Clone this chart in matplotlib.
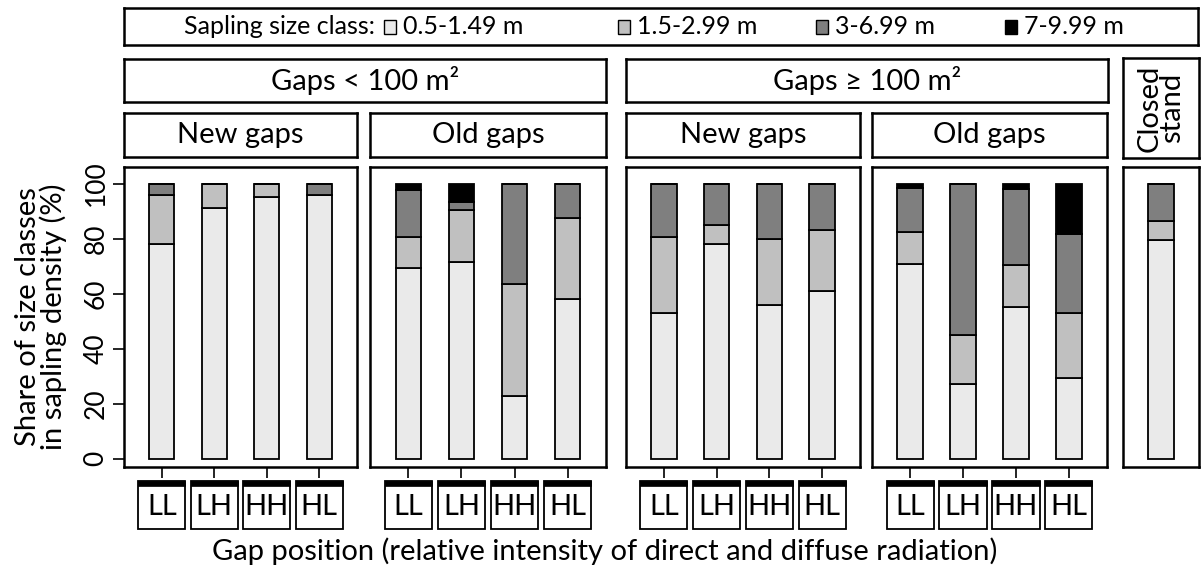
import matplotlib
matplotlib.use("Agg")
import matplotlib.pyplot as plt
from matplotlib.patches import Rectangle
from matplotlib.transforms import blended_transform_factory
import numpy as np

plt.rcParams['font.family'] = ['Lato', 'DejaVu Sans']

# ---------------- data ----------------
size_classes = ["0.5-1.49 m", "1.5-2.99 m", "3-6.99 m", "7-9.99 m"]
class_colors = ["#eaeaea", "#c0c0c0", "#7f7f7f", "#000000"]
positions = ["LL", "LH", "HH", "HL"]

# shares (%) per size class for LL, LH, HH, HL
small_new_s1 = [78, 91, 95, 96]
small_new_s2 = [18, 9, 5, 0]
small_new_s3 = [4, 0, 0, 4]
small_new_s4 = [0, 0, 0, 0]

small_old_s1 = [69.4, 71.6, 22.9, 57.9]
small_old_s2 = [11.1, 18.8, 40.6, 29.4]
small_old_s3 = [17.3, 2.9, 36.5, 12.7]
small_old_s4 = [2.2, 6.7, 0, 0]

large_new_s1 = [53.0, 77.9, 56.0, 61.1]
large_new_s2 = [27.6, 7.1, 24.0, 21.9]
large_new_s3 = [19.4, 15.0, 20.0, 17.0]
large_new_s4 = [0, 0, 0, 0]

large_old_s1 = [70.6, 27.2, 55.1, 29.3]
large_old_s2 = [11.8, 17.8, 15.4, 23.7]
large_old_s3 = [16.0, 55.0, 27.4, 28.6]
large_old_s4 = [1.6, 0, 2.1, 18.4]

closed_s1 = [79.3]
closed_s2 = [6.9]
closed_s3 = [13.8]
closed_s4 = [0]

top_strips = ["Gaps < 100 m²", "Gaps ≥ 100 m²"]
sub_strips = ["New gaps", "Old gaps", "New gaps", "Old gaps"]
closed_label = "Closed\nstand"
legend_title = "Sapling size class:"
y_ticks = [0, 20, 40, 60, 80, 100]
y_label = "Share of size classes\nin sapling density (%)"
x_label = "Gap position (relative intensity of direct and diffuse radiation)"

panels = [
    [small_new_s1, small_new_s2, small_new_s3, small_new_s4],
    [small_old_s1, small_old_s2, small_old_s3, small_old_s4],
    [large_new_s1, large_new_s2, large_new_s3, large_new_s4],
    [large_old_s1, large_old_s2, large_old_s3, large_old_s4],
]
closed_panel = [closed_s1, closed_s2, closed_s3, closed_s4]

# ---------------- layout ----------------
W, H = 1203, 572
fig = plt.figure(figsize=(W / 100, H / 100), dpi=100)


def px(x0, y0, x1, y1):
    return [x0 / W, 1 - y1 / H, (x1 - x0) / W, (y1 - y0) / H]


SPINE_LW = 1.8
FS = 21


def box_axes(rect):
    a = fig.add_axes(rect)
    a.set_xticks([])
    a.set_yticks([])
    for s in a.spines.values():
        s.set_linewidth(SPINE_LW)
    return a


# legend box
lax = box_axes(px(124, 8, 1198, 45))
lax.set_xlim(124, 1198)
lax.set_ylim(45, 8)
lax.text(375, 27, legend_title, ha="right", va="center", fontsize=18)
leg_x = [384, 618, 816, 1005]
for lx, lab, col in zip(leg_x, size_classes, class_colors):
    lax.add_patch(Rectangle((lx, 20), 12, 14, facecolor=col, edgecolor="black", lw=1.0))
    lax.text(lx + 19, 27, lab, ha="left", va="center", fontsize=18)

# top strips
for (x0, x1), lab in zip([(124, 606), (626, 1108)], top_strips):
    a = box_axes(px(x0, 59, x1, 102))
    a.text(0.5, 0.5, lab, ha="center", va="center", fontsize=FS, transform=a.transAxes)

# closed stand strip
a = box_axes(px(1123, 58, 1199, 158))
a.text(0.5, 0.5, closed_label, ha="center", va="center", fontsize=FS,
       rotation=90, linespacing=0.8, transform=a.transAxes)

panel_x = [(124, 357), (370, 606), (626, 860), (872, 1107)]
for (x0, x1), lab in zip(panel_x, sub_strips):
    a = box_axes(px(x0, 113, x1, 157))
    a.text(0.5, 0.5, lab, ha="center", va="center", fontsize=FS, transform=a.transAxes)


def draw_bars(ax, series, n):
    x = np.arange(1, n + 1)
    bottom = np.zeros(n)
    for vals, col in zip(series, class_colors):
        v = np.asarray(vals, dtype=float)
        ax.bar(x, v, width=0.48, bottom=bottom, color=col, edgecolor="black",
               linewidth=1.3, zorder=2)
        bottom += v
    ax.set_ylim(-3, 106)
    for s in ax.spines.values():
        s.set_linewidth(SPINE_LW)


axes = []
for i, ((x0, x1), series) in enumerate(zip(panel_x, panels)):
    ax = fig.add_axes(px(x0, 167, x1, 467))
    draw_bars(ax, series, 4)
    ax.set_xlim(0.28, 4.72)
    ax.set_xticks(np.arange(1, 5))
    ax.set_xticklabels([])
    ax.tick_params(axis="x", length=8, width=1.2, direction="out")
    if i == 0:
        ax.set_yticks(y_ticks)
        ax.tick_params(axis="y", length=8, width=1.2, direction="out",
                       labelsize=19, labelrotation=90, pad=3)
        for t in ax.get_yticklabels():
            t.set_va("center")
        ax.set_ylabel(y_label, fontsize=FS, linespacing=0.95, labelpad=12)
    else:
        ax.set_yticks([])
    # position label boxes below each tick
    tr = blended_transform_factory(ax.transData, fig.transFigure)
    bw = 0.89
    ytop = 1 - 481 / H
    ybot = 1 - 529 / H
    for xi, lab in zip(np.arange(1, 5), positions):
        ax.add_patch(Rectangle((xi - bw / 2, ybot), bw, ytop - ybot, transform=tr,
                               facecolor="white", edgecolor="black", lw=1.3,
                               clip_on=False))
        ax.add_patch(Rectangle((xi - bw / 2, ytop - 5 / H), bw, 5 / H, transform=tr,
                               facecolor="black", edgecolor="black", lw=0.5,
                               clip_on=False))
        ax.text(xi, (ytop + ybot) / 2 - 2 / H, lab, transform=tr, ha="center",
                va="center", fontsize=FS)
    axes.append(ax)

# closed stand panel
cax = fig.add_axes(px(1123, 167, 1199, 467))
draw_bars(cax, closed_panel, 1)
cax.set_xlim(0.28, 1.72)
cax.set_xticks([])
cax.set_yticks([])

fig.text(605 / W, 1 - 551 / H, x_label, ha="center", va="center", fontsize=FS)

fig.savefig("out.png", dpi=100)
